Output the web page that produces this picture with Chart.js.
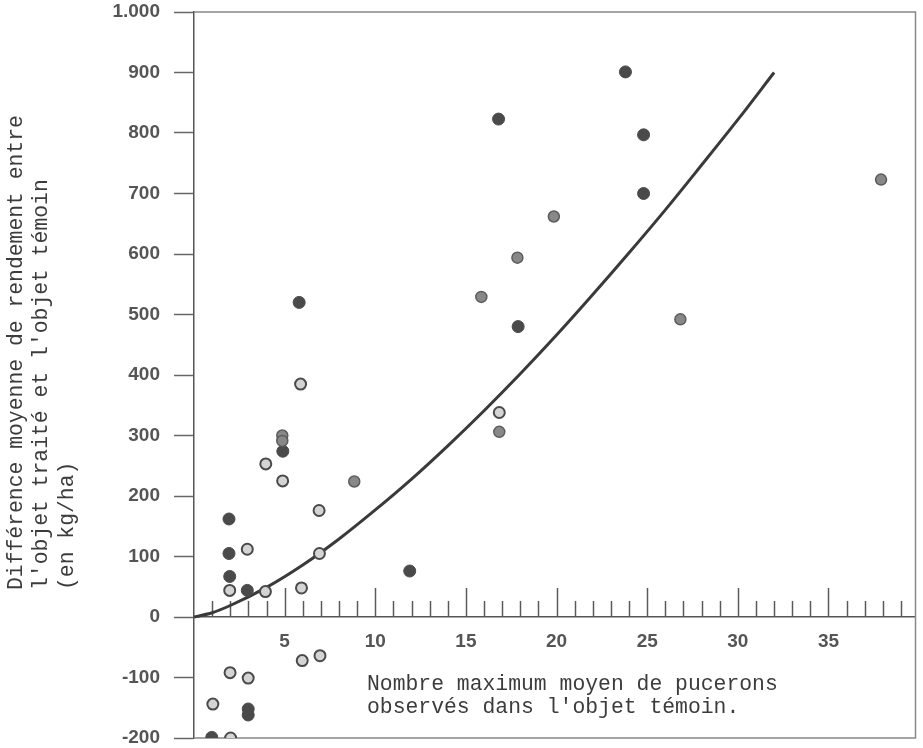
<!DOCTYPE html>
<html>
<head>
<meta charset="utf-8">
<script src="https://cdn.jsdelivr.net/npm/chart.js@4.4.1/dist/chart.umd.min.js"></script>
<style>
  html, body { margin: 0; padding: 0; background: #fff; }
  canvas { display: block; }
</style>
</head>
<body>
<canvas id="chart" width="923" height="748"></canvas>
<script>
// points noirs (pleins)
const solidX = [5.8, 4.9, 1.93, 1.93, 1.97, 2.94, 2.99, 2.99, 0.98, 23.8, 16.8, 24.8, 24.8, 17.88, 11.9];
const solidY = [520, 274, 162, 105, 67, 44, -152, -162, -199, 901, 823, 797, 700, 480, 76];
// points gris
const greyX = [19.85, 17.84, 15.85, 26.83, 37.9, 16.84, 8.84, 4.87, 4.87];
const greyY = [662, 594, 529, 492, 723, 306, 224, 300, 291];
// points clairs (cerclés)
const openX = [5.88, 3.96, 4.89, 6.9, 2.94, 6.92, 1.97, 3.94, 5.93, 5.97, 6.95, 1.99, 2.99, 1.04, 2.02, 16.84];
const openY = [385, 253, 225, 176, 112, 105, 44, 42, 48, -72, -64, -92, -101, -144, -200, 338];
// courbe d'ajustement
const curveX = [0, 1, 2, 4, 6, 8, 10, 12, 14, 16, 18, 20, 22, 24, 26, 28, 30, 32];
const curveY = [0, 7, 19, 49, 86, 129, 177, 228, 283, 341, 402, 466, 533, 602, 673, 747, 822, 900];

// graduations
const xLabelValues = [5, 10, 15, 20, 25, 30, 35];
const yTickValues = [-200, -100, 0, 100, 200, 300, 400, 500, 600, 700, 800, 900, 1000];
const yTickLabels = ['-200', '-100', '0', '100', '200', '300', '400', '500', '600', '700', '800', '900', '1.000'];

const yTitle = [
    'Différence moyenne de rendement entre',
    "l'objet traité et l'objet témoin",
    '(en kg/ha)'
];
const xTitle = [
    'Nombre maximum moyen de pucerons',
    "observés dans l'objet témoin."
];

const toPoints = (xs, ys) => xs.map((v, i) => ({ x: v, y: ys[i] }));

const INK = '#4a4a4a';
const tickFont = { family: '"Liberation Sans", Arial, sans-serif', size: 19, weight: 'bold' };

// cadre + petites graduations de l'axe x
const framePlugin = {
    id: 'frame',
    beforeDatasetsDraw(chart) {
        const { ctx, chartArea: a, scales: { x, y } } = chart;
        const y0 = y.getPixelForValue(0);
        ctx.save();
        ctx.strokeStyle = '#5a5a5a';
        ctx.lineWidth = 1.5;
        x.ticks.forEach(t => {
            if (t.value <= 0) return;
            const px = Math.round(x.getPixelForValue(t.value)) + 0.5;
            const len = t.value % 5 === 0 ? 29 : 16;
            ctx.beginPath();
            ctx.moveTo(px, y0);
            ctx.lineTo(px, y0 - len);
            ctx.stroke();
        });
        ctx.strokeStyle = '#888';
        ctx.beginPath();
        ctx.moveTo(a.left, a.top);
        ctx.lineTo(a.right, a.top);
        ctx.lineTo(a.right, a.bottom);
        ctx.lineTo(a.left, a.bottom);
        ctx.stroke();
        ctx.restore();
    },
    afterDraw(chart) {
        const { ctx } = chart;
        ctx.save();
        ctx.fillStyle = '#3c3c3c';
        ctx.font = '21.4px "Liberation Mono", "Courier New", monospace';
        ctx.textAlign = 'left';
        ctx.textBaseline = 'alphabetic';
        ctx.fillText(xTitle[0], 367, 690);
        ctx.fillText(xTitle[1], 367, 713);

        ctx.textBaseline = 'middle';
        const cols = [16, 41, 67];
        yTitle.forEach((line, i) => {
            ctx.save();
            ctx.translate(cols[i], 590);
            ctx.rotate(-Math.PI / 2);
            ctx.fillText(line, 0, 0);
            ctx.restore();
        });
        ctx.restore();
    }
};

new Chart(document.getElementById('chart'), {
    type: 'scatter',
    data: {
        datasets: [
            {
                data: toPoints(openX, openY),
                backgroundColor: '#d4d4d4',
                borderColor: INK,
                borderWidth: 2,
                pointRadius: 5.5
            },
            {
                data: toPoints(greyX, greyY),
                backgroundColor: '#888',
                borderColor: '#5c5c5c',
                borderWidth: 1.5,
                pointRadius: 5.5
            },
            {
                data: toPoints(solidX, solidY),
                backgroundColor: INK,
                borderColor: INK,
                borderWidth: 1,
                pointRadius: 6
            },
            {
                data: toPoints(curveX, curveY),
                showLine: true,
                borderColor: '#3a3a3a',
                borderWidth: 3,
                pointRadius: 0,
                cubicInterpolationMode: 'monotone'
            }
        ]
    },
    options: {
        responsive: false,
        animation: false,
        events: [],
        layout: { padding: { top: 12, right: 1, bottom: 10, left: 0 } },
        plugins: {
            legend: { display: false },
            tooltip: { enabled: false }
        },
        scales: {
            x: {
                type: 'linear',
                position: { y: 0 },
                min: 0,
                max: 39.8,
                afterFit: s => {
                    s.paddingLeft = 0; s.paddingRight = 0;
                    s.paddingTop = 0; s.paddingBottom = 0;
                },
                grid: { display: false },
                border: { color: '#555', width: 1.5 },
                ticks: {
                    stepSize: 1,
                    includeBounds: false,
                    autoSkip: false,
                    maxRotation: 0,
                    padding: 5,
                    color: '#555',
                    font: tickFont,
                    callback: v => xLabelValues.includes(v) ? String(v) : ''
                }
            },
            y: {
                type: 'linear',
                min: -200,
                max: 1000,
                afterFit: s => {
                    s.width = 194;
                    s.paddingTop = 0; s.paddingBottom = 0;
                },
                afterBuildTicks: s => { s.ticks = yTickValues.map(v => ({ value: v })); },
                grid: {
                    drawOnChartArea: false,
                    drawTicks: true,
                    tickLength: 20,
                    tickColor: '#666',
                    tickWidth: 1.5
                },
                border: { color: '#555', width: 1.5 },
                ticks: {
                    padding: 14,
                    color: '#555',
                    font: tickFont,
                    callback: v => yTickLabels[yTickValues.indexOf(v)]
                }
            }
        }
    },
    plugins: [framePlugin]
});
</script>
</body>
</html>
